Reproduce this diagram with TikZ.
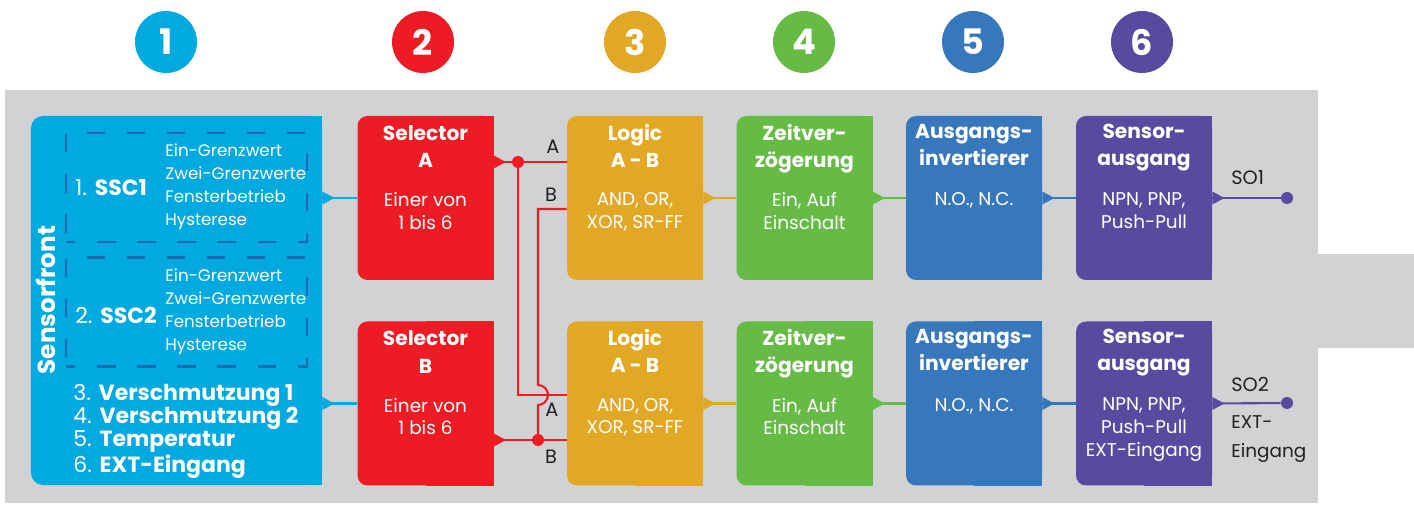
\documentclass[tikz,border=0pt]{standalone}
\usepackage{fontspec}
\setmainfont{Poppins}
\usetikzlibrary{positioning}

\definecolor{sfblau}{HTML}{00A9E0}
\definecolor{selrot}{HTML}{ED1C24}
\definecolor{loggelb}{HTML}{E1A826}
\definecolor{zeitgruen}{HTML}{66BB46}
\definecolor{invblau}{HTML}{3777BC}
\definecolor{ausviolett}{HTML}{5A4A9F}
\definecolor{hgrau}{HTML}{D1D2D4}
\definecolor{strich}{HTML}{1E6AB2}
\definecolor{schrift}{HTML}{231F20}

\tikzset{
  block/.style={minimum width=2.72cm, minimum height=3.28cm, rounded corners=0.2cm, inner sep=0pt},
  head/.style={text=white, align=center, font=\bfseries\fontsize{11.5}{15.4}\selectfont, inner sep=0pt, anchor=north},
  body/.style={text=white, align=center, font=\fontsize{10.5}{13}\selectfont, inner sep=0pt, anchor=north},
  num/.style={circle, minimum size=1.24cm, inner sep=0pt, text=white, font=\bfseries\fontsize{20}{20}\selectfont},
  link/.style={line width=1.2pt},
  dot/.style={circle, fill, minimum size=0.24cm, inner sep=0pt},
  ablabel/.style={text=schrift, font=\fontsize{11}{11}\selectfont, inner sep=0pt},
  ssc/.style={draw=strich, line width=1.7pt, dash pattern=on 10.4pt off 12.4pt, dash phase=5pt, minimum width=4.82cm, minimum height=2.18cm},
  liste/.style={text=white, align=left, font=\fontsize{9.5}{13}\selectfont, inner sep=0pt, anchor=west},
  item/.style={text=white, align=left, font=\fontsize{12.5}{13.3}\selectfont, inner sep=0pt, anchor=west},
}

% square right corners of a block
\newcommand\ecken[2]{\fill[#2] (#1.north) rectangle (#1.south east);}
% little arrow nose where a line leaves a block
\newcommand\nase[2]{\fill[#2] (#1) ++(0,0.13) -- ++(0.24,-0.13) -- ++(-0.24,-0.13) -- cycle;}

\begin{document}
\begin{tikzpicture}

\useasboundingbox (0,0) rectangle (28.28,10.1);

% Background
\fill[hgrau] (0.1,0.04) rectangle (26.36,8.3);
\fill[hgrau] (26.36,3.14) rectangle (28.28,5.02);

% Step numbers
\node[num, fill=sfblau] (n1) at (3.32,9.26) {1};
\node[num, fill=selrot] (n2) at (8.46,9.26) {2};
\node[num, fill=loggelb] (n3) at (12.70,9.26) {3};
\node[num, fill=zeitgruen] (n4) at (16.08,9.26) {4};
\node[num, fill=invblau] (n5) at (19.46,9.26) {5};
\node[num, fill=ausviolett] (n6) at (22.84,9.26) {6};

% Sensorfront
\node[block, fill=sfblau, minimum width=5.82cm, minimum height=7.38cm, rounded corners=0.24cm] (sens) at (3.53,4.09) {};
\ecken{sens}{sfblau}
\node[rotate=90, text=white, font=\bfseries\fontsize{14}{14}\selectfont, inner sep=0pt] (sens-t) at (0.92,4.10) {Sensorfront};
\node[ssc] (ssc1) at (3.73,6.35) {};
\node[ssc] (ssc2) at (3.73,3.86) {};
\node[item] (ssc1-t) at (1.5,6.34) {1. \textbf{SSC1}};
\node[item] (ssc2-t) at (1.5,3.80) {2. \textbf{SSC2}};
\node[liste] (ssc1-l) at (3.3,6.36) {Ein-Grenzwert\\Zwei-Grenzwerte\\Fensterbetrieb\\Hysterese};
\node[liste] (ssc2-l) at (3.3,3.86) {Ein-Grenzwert\\Zwei-Grenzwerte\\Fensterbetrieb\\Hysterese};
\node[item] (quellen) at (1.46,1.48) {3. \textbf{Verschmutzung 1}\\4. \textbf{Verschmutzung 2}\\5. \textbf{Temperatur}\\6. \textbf{EXT-Eingang}};

% Blocks, upper row
\node[block, fill=selrot] (selA) at (8.51,6.14) {};
\node[block, fill=loggelb] (logA) at (12.70,6.14) {};
\node[block, fill=zeitgruen] (zeitA) at (16.09,6.14) {};
\node[block, fill=invblau] (invA) at (19.48,6.14) {};
\node[block, fill=ausviolett] (ausA) at (22.88,6.14) {};

% Blocks, lower row
\node[block, fill=selrot] (selB) at (8.51,2.03) {};
\node[block, fill=loggelb] (logB) at (12.70,2.03) {};
\node[block, fill=zeitgruen] (zeitB) at (16.09,2.03) {};
\node[block, fill=invblau] (invB) at (19.48,2.03) {};
\node[block, fill=ausviolett] (ausB) at (22.88,2.03) {};

\ecken{selA}{selrot} \ecken{logA}{loggelb} \ecken{zeitA}{zeitgruen} \ecken{invA}{invblau} \ecken{ausA}{ausviolett}
\ecken{selB}{selrot} \ecken{logB}{loggelb} \ecken{zeitB}{zeitgruen} \ecken{invB}{invblau} \ecken{ausB}{ausviolett}

% Block texts
\node[head] (selA-t) at ([yshift=-0.19cm]selA.north) {Selector\\A};
\node[body] (selA-b) at ([yshift=-1.53cm]selA.north) {Einer von\\1 bis 6};
\node[head] (selB-t) at ([yshift=-0.19cm]selB.north) {Selector\\B};
\node[body] (selB-b) at ([yshift=-1.53cm]selB.north) {Einer von\\1 bis 6};
\node[head] (logA-t) at ([yshift=-0.16cm]logA.north) {Logic\\A - B};
\node[body] (logA-b) at ([yshift=-1.53cm]logA.north) {AND, OR,\\XOR, SR-FF};
\node[head] (logB-t) at ([yshift=-0.16cm]logB.north) {Logic\\A - B};
\node[body] (logB-b) at ([yshift=-1.53cm]logB.north) {AND, OR,\\XOR, SR-FF};
\node[head] (zeitA-t) at ([yshift=-0.16cm]zeitA.north) {Zeitver-\\zögerung};
\node[body] (zeitA-b) at ([yshift=-1.53cm]zeitA.north) {Ein, Auf\\Einschalt};
\node[head] (zeitB-t) at ([yshift=-0.16cm]zeitB.north) {Zeitver-\\zögerung};
\node[body] (zeitB-b) at ([yshift=-1.53cm]zeitB.north) {Ein, Auf\\Einschalt};
\node[head] (invA-t) at ([yshift=-0.16cm]invA.north) {Ausgangs-\\invertierer};
\node[body] (invA-b) at ([yshift=-1.53cm]invA.north) {N.O., N.C.};
\node[head] (invB-t) at ([yshift=-0.16cm]invB.north) {Ausgangs-\\invertierer};
\node[body] (invB-b) at ([yshift=-1.53cm]invB.north) {N.O., N.C.};
\node[head] (ausA-t) at ([yshift=-0.16cm]ausA.north) {Sensor-\\ausgang};
\node[body] (ausA-b) at ([yshift=-1.53cm]ausA.north) {NPN, PNP,\\Push-Pull};
\node[head] (ausB-t) at ([yshift=-0.16cm]ausB.north) {Sensor-\\ausgang};
\node[body] (ausB-b) at ([yshift=-1.53cm]ausB.north) {NPN, PNP,\\Push-Pull\\EXT-Eingang};

% Sensorfront to selectors
\nase{sens.east |- selA}{sfblau}
\nase{sens.east |- selB}{sfblau}
\draw[link, sfblau] (sens.east |- selA) -- (selA.west);
\draw[link, sfblau] (sens.east |- selB) -- (selB.west);

% Selectors to logic, crossed
\coordinate (jA) at (10.36,6.86);
\coordinate (jB) at (10.76,1.30);
\coordinate (hop) at (10.76,2.20);
\nase{selA.east |- jA}{selrot}
\nase{selB.east |- jB}{selrot}
\draw[link, selrot] (selA.east |- jA) -- (logA.west |- jA);
\draw[link, selrot] (jA) |- (logB.west |- hop);
\draw[link, selrot] (selB.east |- jB) -- (logB.west |- jB);
\draw[link, selrot] (jB) -- ([yshift=-0.2cm]hop) arc (-90:90:0.2cm) |- (logA.west |- 0,5.92);
\node[dot, selrot] (jA-p) at (jA) {};
\node[dot, selrot] (jB-p) at (jB) {};
\node[ablabel] (lA1) at (11.06,7.16) {A};
\node[ablabel] (lB1) at (11.02,6.20) {B};
\node[ablabel] (lA2) at (11.04,1.90) {A};
\node[ablabel] (lB2) at (11.02,0.96) {B};

% Chain, upper row
\nase{logA.east}{loggelb}
\nase{zeitA.east}{zeitgruen}
\nase{invA.east}{invblau}
\nase{ausA.east}{ausviolett}
\draw[link, loggelb] (logA.east) -- (zeitA.west);
\draw[link, zeitgruen] (zeitA.east) -- (invA.west);
\draw[link, invblau] (invA.east) -- (ausA.west);

% Chain, lower row
\nase{logB.east}{loggelb}
\nase{zeitB.east}{zeitgruen}
\nase{invB.east}{invblau}
\nase{ausB.east}{ausviolett}
\draw[link, loggelb] (logB.east) -- (zeitB.west);
\draw[link, zeitgruen] (zeitB.east) -- (invB.west);
\draw[link, invblau] (invB.east) -- (ausB.west);

% Outputs
\node[dot, ausviolett] (so1-p) at (25.74,6.14) {};
\node[dot, ausviolett] (so2-p) at (25.74,2.04) {};
\draw[link, ausviolett] (ausA.east) -- (so1-p);
\draw[link, ausviolett] (ausB.east) -- (so2-p);
\node[ablabel, anchor=west] (so1) at (24.62,6.54) {SO1};
\node[ablabel, anchor=west] (so2) at (24.62,2.42) {SO2};
\node[ablabel, anchor=west, align=left, font=\fontsize{10.5}{16}\selectfont] (ext) at (24.62,1.32) {EXT-\\Eingang};

\end{tikzpicture}
\end{document}
